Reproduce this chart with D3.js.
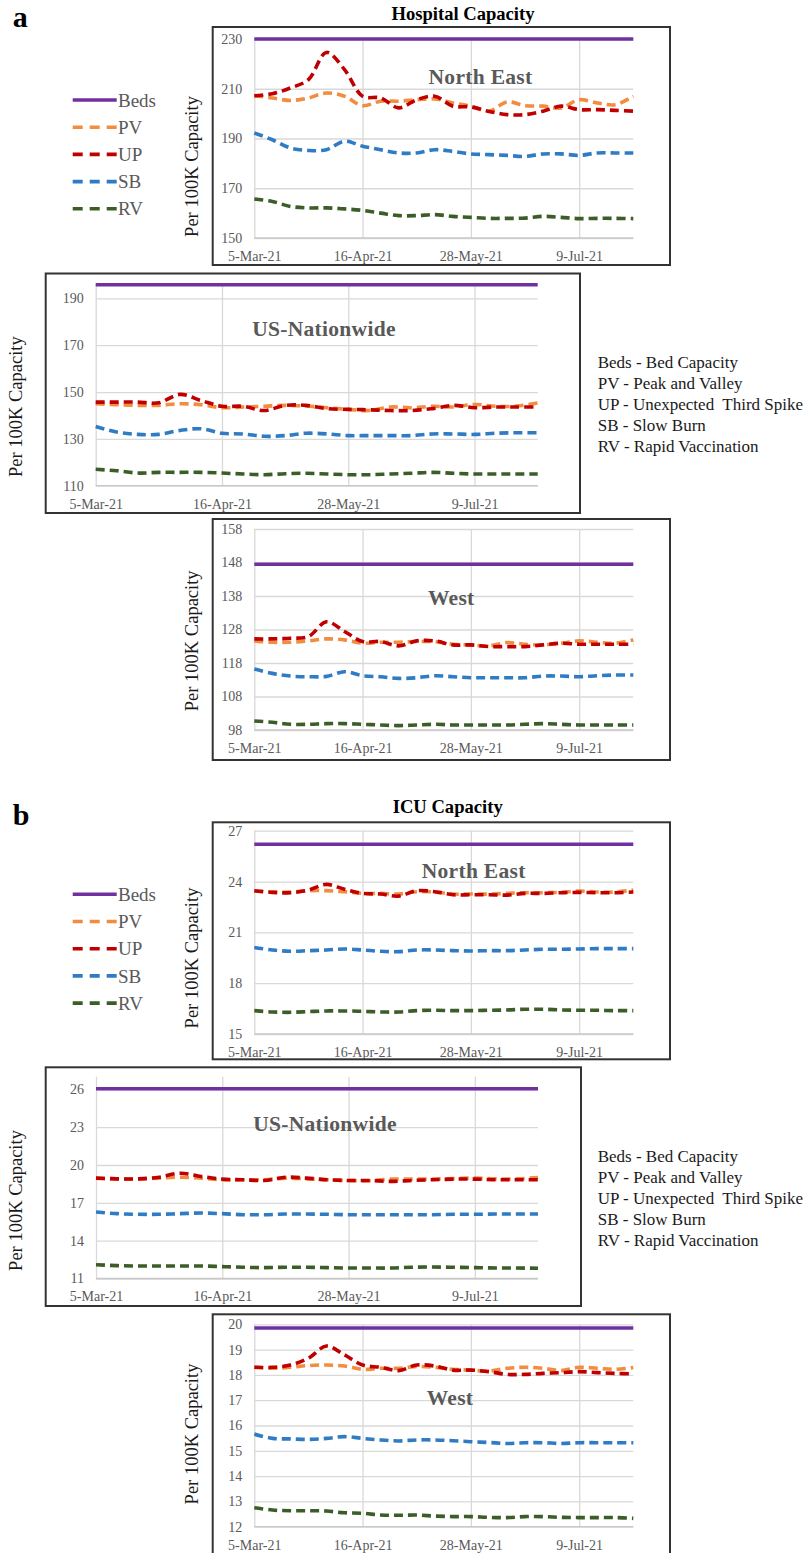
<!DOCTYPE html>
<html><head><meta charset="utf-8">
<script src="https://cdn.jsdelivr.net/npm/d3@7"></script>
<style>
body{margin:0;background:#fff}
svg{display:block}
text{font-family:"Liberation Serif","Times New Roman",serif}
</style>
</head><body>
<svg id="c" width="810" height="1553"></svg>
<script>
// ---------------- DATA ----------------
const startDate = "2021-03-05";
const nWeeks = 22; // weekly points, 5-Mar-21 .. 30-Jul-21
const xTickLabels = ["2021-03-05","2021-04-16","2021-05-28","2021-07-09"];
const seriesNames = ["Beds","PV","UP","SB","RV"];
const legendDefs = ["Beds - Bed Capacity","PV - Peak and Valley","UP - Unexpected  Third Spike","SB - Slow Burn","RV - Rapid Vaccination"];

// Hospital capacity - North East
const hospNE_Beds = 230;
const hospNE_PV = [207.2,206.3,205.3,206.3,208.3,207,203.2,205,205,205.6,205.9,204.3,203,201,204.7,203.2,203,202.3,205.6,204.3,203.6,207];
const hospNE_UP = [207.2,208,210.3,213.7,224.6,217.7,207,206.3,202.3,205.6,207,203,202.7,200.9,199.6,199.6,201,203,201.6,201.6,201.3,201];
const hospNE_SB = [192.2,189.5,186.2,185.2,185.5,188.9,186.9,185.5,184.2,184.2,185.5,184.8,183.8,183.5,183.2,182.8,183.8,183.8,183.2,184.2,184.2,184.2];
const hospNE_RV = [165.7,164.7,162.7,162.1,162.1,161.7,161.1,160,159,159,159.4,158.7,158.3,157.9,157.9,158,158.7,158.3,157.8,157.9,157.9,157.8];
const hospNE_ticks = [150,170,190,210,230];

// Hospital capacity - US-Nationwide
const hospUS_Beds = 195.8;
const hospUS_PV = [145,144.6,144.3,144.3,145,144.6,143.3,143.6,143.9,144.3,144,143.3,142.6,142.1,143.6,143.3,143.9,143.6,144.7,143.9,144,145.3];
const hospUS_UP = [145.7,145.7,145.7,145.4,149,146.4,143.9,143.9,142.1,144.3,144.3,142.9,142.6,142.4,142.1,142.1,142.9,144.3,143.3,143.6,143.6,143.6];
const hospUS_SB = [135.3,132.9,131.9,131.9,133.6,134.3,132.4,132.1,131.1,131.4,132.4,132.1,131.4,131.4,131.4,131.4,132.1,132.1,131.9,132.4,132.6,132.6];
const hospUS_RV = [117,116.4,115.4,115.7,115.7,115.7,115.4,115,114.7,115.1,115.3,115,114.7,114.7,115,115.3,115.7,115.3,115,115,115,115];
const hospUS_ticks = [110,130,150,170,190];

// Hospital capacity - West
const hospW_Beds = 147.5;
const hospW_PV = [124.6,124.2,124.2,124.6,125.2,124.9,123.9,124.2,124.2,124.4,124.4,123.6,123.4,123.1,124.1,123.6,123.4,123.9,124.6,124.2,123.9,124.9];
const hospW_UP = [125.2,125.2,125.4,125.9,130.3,127.4,124.4,124.4,123.1,124.6,124.6,123.4,123.4,122.9,122.9,122.9,123.4,123.9,123.6,123.6,123.6,123.6];
const hospW_SB = [116.2,114.9,114.1,113.9,114,115.4,114.2,113.9,113.4,113.6,114.2,113.9,113.6,113.6,113.6,113.6,114.1,114.1,113.9,114.2,114.4,114.4];
const hospW_RV = [100.7,100.3,99.7,99.7,99.9,99.9,99.7,99.5,99.3,99.5,99.7,99.5,99.5,99.5,99.5,99.7,99.9,99.7,99.5,99.5,99.5,99.5];
const hospW_ticks = [98,108,118,128,138,148,158];

// ICU capacity - North East
const icuNE_Beds = 26.2;
const icuNE_PV = [23.46,23.38,23.38,23.46,23.46,23.40,23.30,23.30,23.26,23.40,23.38,23.26,23.26,23.26,23.30,23.34,23.34,23.36,23.44,23.38,23.38,23.50];
const icuNE_UP = [23.46,23.36,23.34,23.50,23.83,23.54,23.30,23.26,23.14,23.46,23.40,23.22,23.22,23.22,23.20,23.30,23.30,23.34,23.36,23.34,23.34,23.38];
const icuNE_SB = [20.11,19.96,19.88,19.92,19.96,20.02,19.96,19.88,19.86,19.96,19.96,19.92,19.90,19.92,19.92,19.96,20.00,20.00,20.02,20.04,20.04,20.04];
const icuNE_RV = [16.38,16.30,16.28,16.32,16.36,16.36,16.34,16.30,16.30,16.38,16.40,16.38,16.38,16.40,16.42,16.46,16.46,16.42,16.40,16.40,16.38,16.38];
const icuNE_ticks = [15,18,21,24,27];

// ICU capacity - US-Nationwide
const icuUS_Beds = 26.05;
const icuUS_PV = [18.96,18.90,18.88,18.96,19.03,18.96,18.83,18.83,18.83,18.96,18.90,18.83,18.77,18.75,18.88,18.88,18.88,18.93,18.96,18.90,18.90,19.01];
const icuUS_UP = [18.96,18.90,18.90,19.03,19.35,19.09,18.88,18.83,18.77,19.03,18.96,18.83,18.77,18.77,18.70,18.77,18.83,18.88,18.88,18.83,18.83,18.83];
const icuUS_SB = [16.27,16.14,16.09,16.09,16.14,16.19,16.14,16.06,16.06,16.11,16.11,16.09,16.06,16.06,16.06,16.06,16.06,16.09,16.09,16.11,16.11,16.11];
const icuUS_RV = [12.09,12.02,11.99,11.99,11.99,11.99,11.94,11.89,11.86,11.89,11.89,11.86,11.83,11.83,11.83,11.89,11.91,11.89,11.86,11.83,11.83,11.81];
const icuUS_ticks = [11,14,17,20,23,26];

// ICU capacity - West
const icuW_Beds = 19.85;
const icuW_PV = [18.30,18.26,18.30,18.37,18.39,18.35,18.22,18.26,18.26,18.33,18.30,18.22,18.19,18.15,18.26,18.30,18.26,18.17,18.30,18.26,18.22,18.29];
const icuW_UP = [18.30,18.30,18.39,18.66,19.14,18.79,18.39,18.30,18.17,18.39,18.35,18.19,18.19,18.13,18.02,18.02,18.06,18.09,18.13,18.09,18.06,18.04];
const icuW_SB = [15.66,15.49,15.47,15.45,15.49,15.56,15.49,15.43,15.39,15.43,15.43,15.40,15.36,15.33,15.29,15.32,15.32,15.29,15.32,15.32,15.32,15.32];
const icuW_RV = [12.75,12.66,12.63,12.63,12.62,12.55,12.53,12.46,12.45,12.46,12.42,12.40,12.40,12.37,12.36,12.40,12.40,12.37,12.36,12.36,12.36,12.33];
const icuW_ticks = [12,13,14,15,16,17,18,19,20];

// ---------------- STYLE / LAYOUT ----------------
const colors = {Beds:"#7030a0", PV:"#f28c3e", UP:"#c00000", SB:"#2f7bc4", RV:"#3b5e27"};
const parse = d3.timeParse("%Y-%m-%d");
const x0 = parse(startDate);
const dates = d3.range(nWeeks).map(k => d3.timeDay.offset(x0, 7*k));
const xEnd = dates[dates.length-1];
const tickDates = xTickLabels.map(parse);
const fmt = d3.timeFormat("%-d-%b-%y");
const svg = d3.select("#c");
const SERIF = '"Liberation Serif","Times New Roman",serif';

const panels = [
  {box:[212.7,27,670,265], xr:[254.3,633.3], yr:[238,39], dom:[150,230], ticks:hospNE_ticks,
   beds:hospNE_Beds, s:{PV:hospNE_PV,UP:hospNE_UP,SB:hospNE_SB,RV:hospNE_RV}, label:"North East", lx:480.5, ly:76, ytx:192, yty:166.5},
  {box:[45.7,273.5,580,513], xr:[95.7,537.7], yr:[485.7,284.3], dom:[110,196], ticks:hospUS_ticks,
   beds:hospUS_Beds, s:{PV:hospUS_PV,UP:hospUS_UP,SB:hospUS_SB,RV:hospUS_RV}, label:"US-Nationwide", lx:324, ly:328.5, ytx:16, yty:406.7},
  {box:[212.7,519,670,760], xr:[254.3,633.3], yr:[730,529], dom:[98,158], ticks:hospW_ticks,
   beds:hospW_Beds, s:{PV:hospW_PV,UP:hospW_UP,SB:hospW_SB,RV:hospW_RV}, label:"West", lx:451.3, ly:597.7, ytx:191.7, yty:640.8},
  {box:[212.7,822.3,670,1059.3], xr:[254.3,633.3], yr:[1034,830.7], dom:[15,27], ticks:icuNE_ticks,
   beds:icuNE_Beds, s:{PV:icuNE_PV,UP:icuNE_UP,SB:icuNE_SB,RV:icuNE_RV}, label:"North East", lx:473.7, ly:870, ytx:191.7, yty:958},
  {box:[45.7,1067.3,581,1306], xr:[96,538], yr:[1278.5,1076.7], dom:[11,27], ticks:icuUS_ticks,
   beds:icuUS_Beds, s:{PV:icuUS_PV,UP:icuUS_UP,SB:icuUS_SB,RV:icuUS_RV}, label:"US-Nationwide", lx:325, ly:1123.5, ytx:16, yty:1200.5},
  {box:[212.7,1314.3,670,1600], xr:[254.3,633.3], yr:[1526.7,1324.3], dom:[12,20], ticks:icuW_ticks,
   beds:icuW_Beds, s:{PV:icuW_PV,UP:icuW_UP,SB:icuW_SB,RV:icuW_RV}, label:"West", lx:450, ly:1397.3, ytx:191.7, yty:1434}
];

function drawPanel(p){
  const g = svg.append("g");
  const x = d3.scaleTime().domain([x0, xEnd]).range(p.xr);
  const y = d3.scaleLinear().domain(p.dom).range(p.yr);
  const w = p.xr[1]-p.xr[0], h = p.yr[0]-p.yr[1];

  // horizontal gridlines
  g.append("g").attr("transform",`translate(${p.xr[0]},0)`)
    .call(d3.axisLeft(y).tickValues(p.ticks).tickSize(-w).tickFormat(""))
    .call(s=>{s.select(".domain").remove(); s.selectAll("line").attr("stroke","#d9d9d9").attr("stroke-width",1.3);});
  // vertical gridlines
  g.append("g").attr("transform",`translate(0,${p.yr[0]})`)
    .call(d3.axisBottom(x).tickValues(tickDates).tickSize(-h).tickFormat(""))
    .call(s=>{s.select(".domain").remove(); s.selectAll("line").attr("stroke","#d9d9d9").attr("stroke-width",1.3);});
  // bottom axis line
  g.append("line").attr("x1",p.xr[0]).attr("x2",p.xr[1]).attr("y1",p.yr[0]).attr("y2",p.yr[0])
    .attr("stroke","#c8c8c8").attr("stroke-width",1.3);

  // y tick labels
  g.append("g").attr("transform",`translate(${p.xr[0]},0)`)
    .call(d3.axisLeft(y).tickValues(p.ticks).tickSize(0).tickPadding(12))
    .call(s=>{s.select(".domain").remove();
      s.attr("font-family",SERIF).attr("font-size",14);
      s.selectAll("text").attr("fill","#595959");});
  // x tick labels
  g.append("g").attr("transform",`translate(0,${p.yr[0]})`)
    .call(d3.axisBottom(x).tickValues(tickDates).tickFormat(fmt).tickSize(0).tickPadding(13))
    .call(s=>{s.select(".domain").remove();
      s.attr("font-family",SERIF).attr("font-size",14);
      s.selectAll("text").attr("fill","#595959");});

  // region label
  g.append("text").attr("x",p.lx).attr("y",p.ly).attr("dy","0.35em").attr("text-anchor","middle")
    .attr("font-weight","bold").attr("font-size",21.5).attr("fill","#595959").attr("letter-spacing",0.3).text(p.label);

  // beds line
  g.append("path").datum([x0,xEnd])
    .attr("d", d3.line().x(d=>x(d)).y(()=>y(p.beds)))
    .attr("stroke",colors.Beds).attr("stroke-width",3.5).attr("fill","none");

  // scenario lines
  const line = d3.line().x((d,i)=>x(dates[i])).y(d=>y(d)).curve(d3.curveCatmullRom.alpha(0.5));
  ["PV","UP","SB","RV"].forEach(k=>{
    g.append("path").datum(p.s[k]).attr("d",line)
      .attr("fill","none").attr("stroke",colors[k]).attr("stroke-width",3.6)
      .attr("stroke-dasharray","9,5");
  });

  // y-axis title
  g.append("text").attr("transform",`translate(${p.ytx},${p.yty}) rotate(-90)`).attr("dy","0.35em")
    .attr("text-anchor","middle").attr("font-size",18.5).attr("fill","#1a1a1a").text("Per 100K Capacity");

  // frame
  g.append("rect").attr("x",p.box[0]).attr("y",p.box[1]).attr("width",p.box[2]-p.box[0]).attr("height",p.box[3]-p.box[1])
    .attr("fill","none").attr("stroke","#333").attr("stroke-width",2);
}
panels.forEach(drawPanel);

// panel letters & titles
[["a",26.7],["b",825]].forEach(([t,yy])=>{
  svg.append("text").attr("x",12.7).attr("y",yy).attr("font-size",30).attr("font-weight","bold").attr("fill","#000").text(t);
});
[["Hospital Capacity",463,19.5],["ICU Capacity",447.7,813]].forEach(([t,xx,yy])=>{
  svg.append("text").attr("x",xx).attr("y",yy).attr("text-anchor","middle").attr("font-size",18.6)
    .attr("font-weight","bold").attr("fill","#000").text(t);
});

// left legends
function drawLegend(y0){
  const g = svg.append("g");
  seriesNames.forEach((nm,i)=>{
    const yy = y0 + i*27.2;
    g.append("line").attr("x1",72.7).attr("x2",116.7).attr("y1",yy).attr("y2",yy)
      .attr("stroke",colors[nm]).attr("stroke-width",3.6)
      .attr("stroke-dasharray", nm==="Beds" ? null : "10,7");
    g.append("text").attr("x",118).attr("y",yy).attr("dy","0.35em").attr("font-size",19).attr("fill","#595959").text(nm);
  });
}
drawLegend(100);
drawLegend(894.3);

// right definition lists
function drawDefs(y0){
  const g = svg.append("g");
  legendDefs.forEach((t,i)=>{
    g.append("text").attr("x",597.7).attr("y",y0+i*21).attr("dy","0.35em").attr("font-size",17)
      .attr("fill","#1a1a1a").attr("xml:space","preserve").style("white-space","pre").text(t);
  });
}
drawDefs(362);
drawDefs(1155.8);
</script>
</body></html>
